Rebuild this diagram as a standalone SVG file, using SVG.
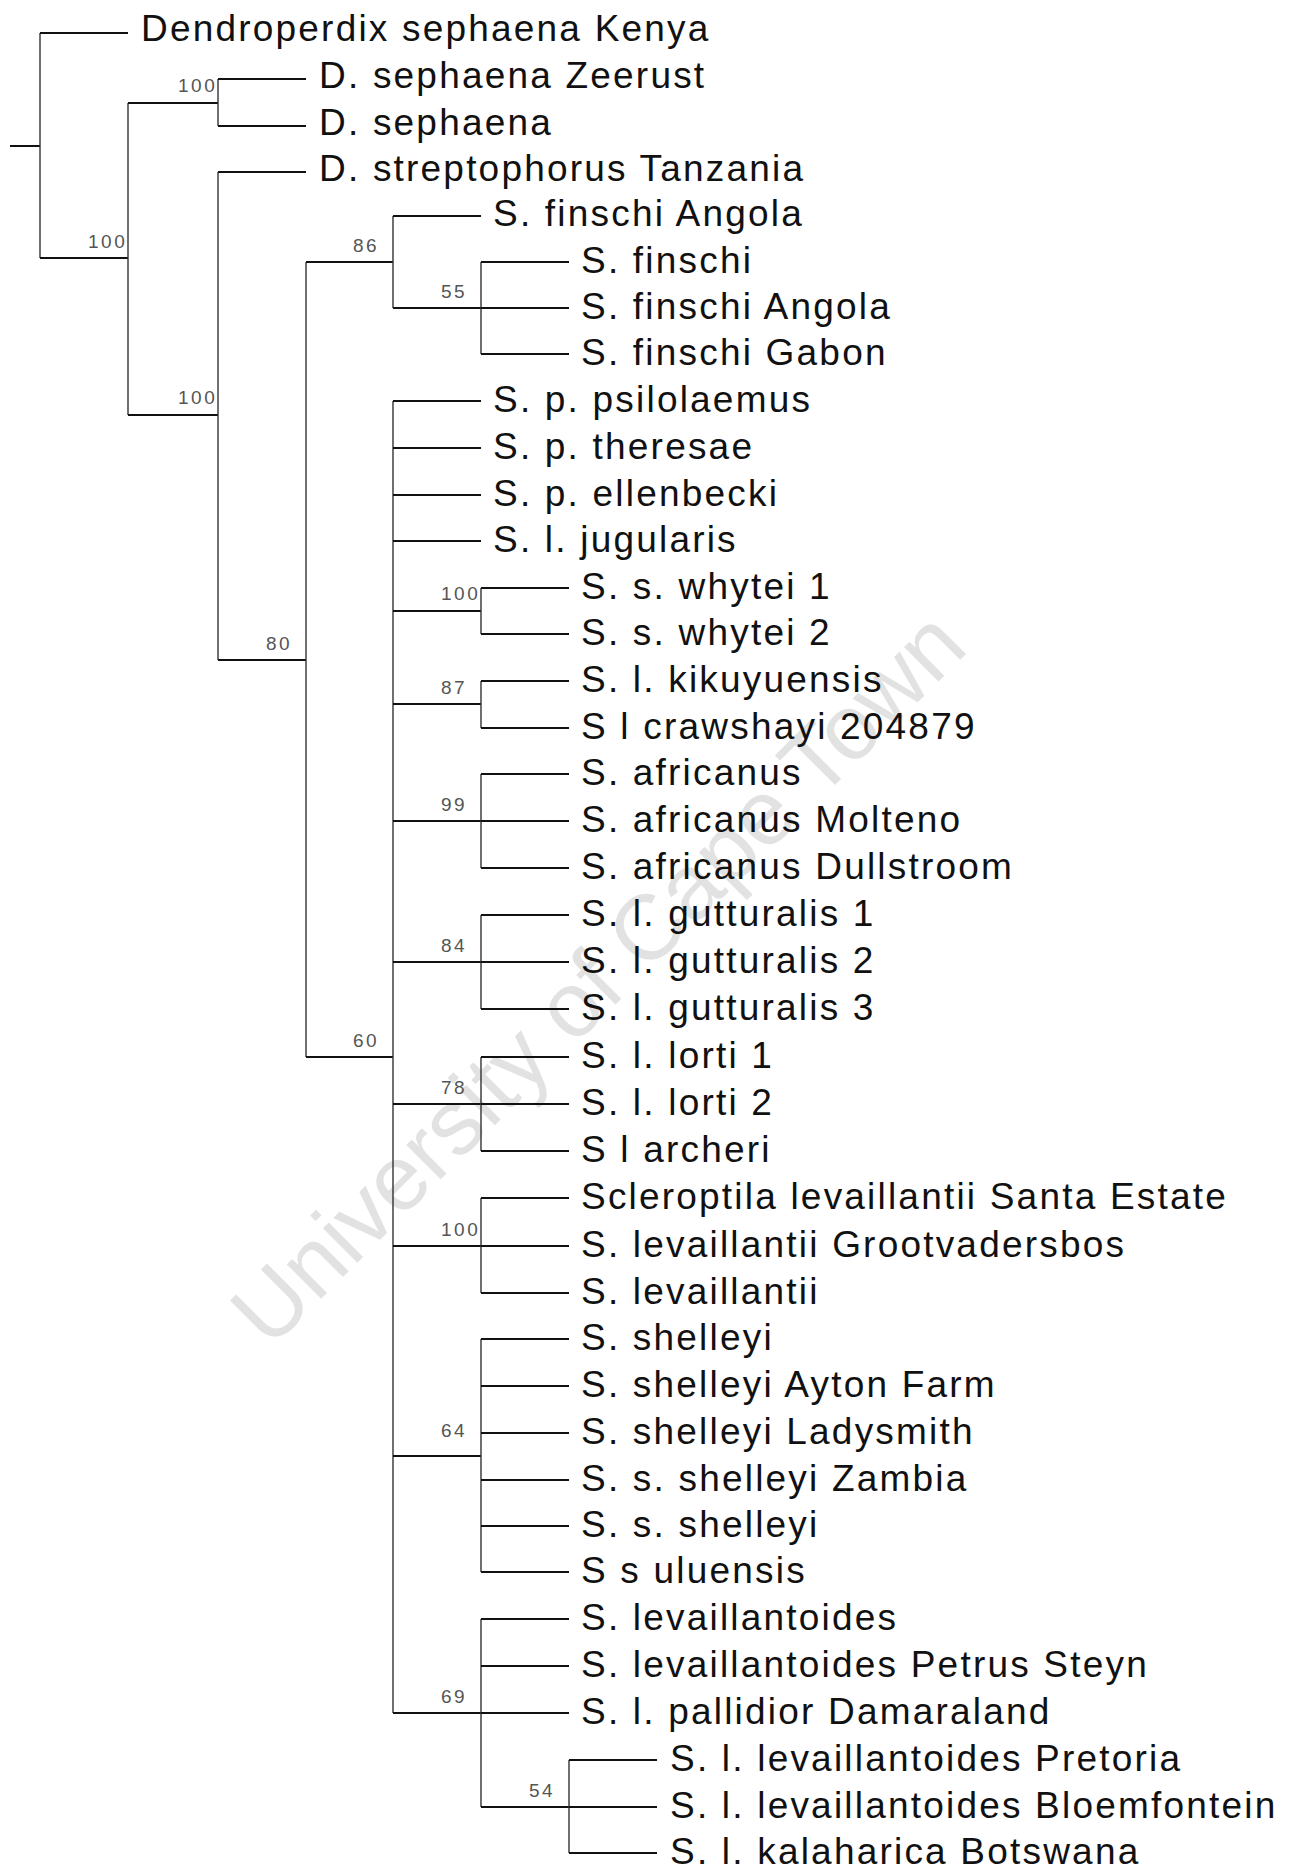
<svg xmlns="http://www.w3.org/2000/svg" width="1298" height="1870" viewBox="0 0 1298 1870">
<style>
.h{stroke:#111;stroke-width:2;fill:none}
.v{stroke:#333;stroke-width:1.4;fill:none}
.t{font-family:"Liberation Sans",Arial,Helvetica,sans-serif;font-size:37px;letter-spacing:2.2px;fill:#111}
.b{font-family:"Liberation Sans",Arial,sans-serif;font-size:19px;letter-spacing:2.5px;fill:#555}
.wm{font-family:"Liberation Sans",Arial,sans-serif;font-size:92px;fill:#e2e2e2}
</style>
<rect width="1298" height="1870" fill="#fff"/>
<text class="wm" transform="translate(620,1000) rotate(-45)" text-anchor="middle">University of Cape Town</text>

<g id="connectors">
  <line class="h" x1="10" y1="146" x2="40" y2="146"/>
  <line class="v" x1="40" y1="33" x2="40" y2="258"/>
  <line class="h" x1="40" y1="33" x2="128" y2="33"/>
  <line class="h" x1="40" y1="258" x2="128" y2="258"/>
  <line class="v" x1="128" y1="103" x2="128" y2="415"/>
  <line class="h" x1="128" y1="103" x2="218" y2="103"/>
  <line class="v" x1="218" y1="79" x2="218" y2="126"/>
  <line class="h" x1="218" y1="79" x2="306" y2="79"/>
  <line class="h" x1="218" y1="126" x2="306" y2="126"/>
  <line class="h" x1="128" y1="415" x2="218" y2="415"/>
  <line class="v" x1="218" y1="172" x2="218" y2="660"/>
  <line class="h" x1="218" y1="172" x2="306" y2="172"/>
  <line class="h" x1="218" y1="660" x2="306" y2="660"/>
  <line class="v" x1="306" y1="262" x2="306" y2="1057"/>
  <line class="h" x1="306" y1="262" x2="393" y2="262"/>
  <line class="v" x1="393" y1="216" x2="393" y2="308"/>
  <line class="h" x1="393" y1="216" x2="481" y2="216"/>
  <line class="h" x1="393" y1="308" x2="481" y2="308"/>
  <line class="v" x1="481" y1="262" x2="481" y2="354"/>
  <line class="h" x1="481" y1="262" x2="569" y2="262"/>
  <line class="h" x1="481" y1="308" x2="569" y2="308"/>
  <line class="h" x1="481" y1="354" x2="569" y2="354"/>
  <line class="h" x1="306" y1="1057" x2="393" y2="1057"/>
  <line class="v" x1="393" y1="401" x2="393" y2="1713"/>
  <line class="h" x1="393" y1="401" x2="481" y2="401"/>
  <line class="h" x1="393" y1="448" x2="481" y2="448"/>
  <line class="h" x1="393" y1="495" x2="481" y2="495"/>
  <line class="h" x1="393" y1="541" x2="481" y2="541"/>
  <line class="h" x1="393" y1="611" x2="481" y2="611"/>
  <line class="v" x1="481" y1="588" x2="481" y2="634"/>
  <line class="h" x1="481" y1="588" x2="569" y2="588"/>
  <line class="h" x1="481" y1="634" x2="569" y2="634"/>
  <line class="h" x1="393" y1="704" x2="481" y2="704"/>
  <line class="v" x1="481" y1="681" x2="481" y2="728"/>
  <line class="h" x1="481" y1="681" x2="569" y2="681"/>
  <line class="h" x1="481" y1="728" x2="569" y2="728"/>
  <line class="h" x1="393" y1="821" x2="481" y2="821"/>
  <line class="v" x1="481" y1="774" x2="481" y2="868"/>
  <line class="h" x1="481" y1="774" x2="569" y2="774"/>
  <line class="h" x1="481" y1="821" x2="569" y2="821"/>
  <line class="h" x1="481" y1="868" x2="569" y2="868"/>
  <line class="h" x1="393" y1="962" x2="481" y2="962"/>
  <line class="v" x1="481" y1="915" x2="481" y2="1009"/>
  <line class="h" x1="481" y1="915" x2="569" y2="915"/>
  <line class="h" x1="481" y1="962" x2="569" y2="962"/>
  <line class="h" x1="481" y1="1009" x2="569" y2="1009"/>
  <line class="h" x1="393" y1="1104" x2="481" y2="1104"/>
  <line class="v" x1="481" y1="1057" x2="481" y2="1151"/>
  <line class="h" x1="481" y1="1057" x2="569" y2="1057"/>
  <line class="h" x1="481" y1="1104" x2="569" y2="1104"/>
  <line class="h" x1="481" y1="1151" x2="569" y2="1151"/>
  <line class="h" x1="393" y1="1246" x2="481" y2="1246"/>
  <line class="v" x1="481" y1="1198" x2="481" y2="1293"/>
  <line class="h" x1="481" y1="1198" x2="569" y2="1198"/>
  <line class="h" x1="481" y1="1246" x2="569" y2="1246"/>
  <line class="h" x1="481" y1="1293" x2="569" y2="1293"/>
  <line class="h" x1="393" y1="1456" x2="481" y2="1456"/>
  <line class="v" x1="481" y1="1339" x2="481" y2="1572"/>
  <line class="h" x1="481" y1="1339" x2="569" y2="1339"/>
  <line class="h" x1="481" y1="1386" x2="569" y2="1386"/>
  <line class="h" x1="481" y1="1433" x2="569" y2="1433"/>
  <line class="h" x1="481" y1="1480" x2="569" y2="1480"/>
  <line class="h" x1="481" y1="1526" x2="569" y2="1526"/>
  <line class="h" x1="481" y1="1572" x2="569" y2="1572"/>
  <line class="h" x1="393" y1="1713" x2="481" y2="1713"/>
  <line class="v" x1="481" y1="1619" x2="481" y2="1807"/>
  <line class="h" x1="481" y1="1619" x2="569" y2="1619"/>
  <line class="h" x1="481" y1="1666" x2="569" y2="1666"/>
  <line class="h" x1="481" y1="1713" x2="569" y2="1713"/>
  <line class="h" x1="481" y1="1807" x2="569" y2="1807"/>
  <line class="v" x1="569" y1="1760" x2="569" y2="1853"/>
  <line class="h" x1="569" y1="1760" x2="657" y2="1760"/>
  <line class="h" x1="569" y1="1807" x2="657" y2="1807"/>
  <line class="h" x1="569" y1="1853" x2="657" y2="1853"/>
</g>

<g id="node-A"><text class="b" x="88" y="248">100</text></g>
<g id="node-B"><text class="b" x="178" y="92">100</text></g>
<g id="node-C"><text class="b" x="178" y="404">100</text></g>
<g id="node-D"><text class="b" x="266" y="650">80</text></g>
<g id="node-E"><text class="b" x="353" y="252">86</text></g>
<g id="node-F"><text class="b" x="441" y="298">55</text></g>
<g id="node-G"><text class="b" x="353" y="1047">60</text></g>
<g id="node-H"><text class="b" x="441" y="600">100</text></g>
<g id="node-I"><text class="b" x="441" y="694">87</text></g>
<g id="node-J"><text class="b" x="441" y="811">99</text></g>
<g id="node-K"><text class="b" x="441" y="952">84</text></g>
<g id="node-L"><text class="b" x="441" y="1094">78</text></g>
<g id="node-M"><text class="b" x="441" y="1236">100</text></g>
<g id="node-N"><text class="b" x="441" y="1437">64</text></g>
<g id="node-O"><text class="b" x="441" y="1703">69</text></g>
<g id="node-P"><text class="b" x="529" y="1797">54</text></g>

<g id="leaf-0"><text class="t" x="141" y="41">Dendroperdix sephaena Kenya</text></g>
<g id="leaf-1"><text class="t" x="319" y="88">D. sephaena Zeerust</text></g>
<g id="leaf-2"><text class="t" x="319" y="135">D. sephaena</text></g>
<g id="leaf-3"><text class="t" x="319" y="181">D. streptophorus Tanzania</text></g>
<g id="leaf-4"><text class="t" x="493" y="226">S. finschi Angola</text></g>
<g id="leaf-5"><text class="t" x="581" y="273">S. finschi</text></g>
<g id="leaf-6"><text class="t" x="581" y="319">S. finschi Angola</text></g>
<g id="leaf-7"><text class="t" x="581" y="365">S. finschi Gabon</text></g>
<g id="leaf-8"><text class="t" x="493" y="412">S. p. psilolaemus</text></g>
<g id="leaf-9"><text class="t" x="493" y="459">S. p. theresae</text></g>
<g id="leaf-10"><text class="t" x="493" y="506">S. p. ellenbecki</text></g>
<g id="leaf-11"><text class="t" x="493" y="552">S. l. jugularis</text></g>
<g id="leaf-12"><text class="t" x="581" y="599">S. s. whytei 1</text></g>
<g id="leaf-13"><text class="t" x="581" y="645">S. s. whytei 2</text></g>
<g id="leaf-14"><text class="t" x="581" y="692">S. l. kikuyuensis</text></g>
<g id="leaf-15"><text class="t" x="581" y="739">S l crawshayi 204879</text></g>
<g id="leaf-16"><text class="t" x="581" y="785">S. africanus</text></g>
<g id="leaf-17"><text class="t" x="581" y="832">S. africanus Molteno</text></g>
<g id="leaf-18"><text class="t" x="581" y="879">S. africanus Dullstroom</text></g>
<g id="leaf-19"><text class="t" x="581" y="926">S. l. gutturalis 1</text></g>
<g id="leaf-20"><text class="t" x="581" y="973">S. l. gutturalis 2</text></g>
<g id="leaf-21"><text class="t" x="581" y="1020">S. l. gutturalis 3</text></g>
<g id="leaf-22"><text class="t" x="581" y="1068">S. l. lorti 1</text></g>
<g id="leaf-23"><text class="t" x="581" y="1115">S. l. lorti 2</text></g>
<g id="leaf-24"><text class="t" x="581" y="1162">S l archeri</text></g>
<g id="leaf-25"><text class="t" x="581" y="1209">Scleroptila levaillantii Santa Estate</text></g>
<g id="leaf-26"><text class="t" x="581" y="1257">S. levaillantii Grootvadersbos</text></g>
<g id="leaf-27"><text class="t" x="581" y="1304">S. levaillantii</text></g>
<g id="leaf-28"><text class="t" x="581" y="1350">S. shelleyi</text></g>
<g id="leaf-29"><text class="t" x="581" y="1397">S. shelleyi Ayton Farm</text></g>
<g id="leaf-30"><text class="t" x="581" y="1444">S. shelleyi Ladysmith</text></g>
<g id="leaf-31"><text class="t" x="581" y="1491">S. s. shelleyi Zambia</text></g>
<g id="leaf-32"><text class="t" x="581" y="1537">S. s. shelleyi</text></g>
<g id="leaf-33"><text class="t" x="581" y="1583">S s uluensis</text></g>
<g id="leaf-34"><text class="t" x="581" y="1630">S. levaillantoides</text></g>
<g id="leaf-35"><text class="t" x="581" y="1677">S. levaillantoides Petrus Steyn</text></g>
<g id="leaf-36"><text class="t" x="581" y="1724">S. l. pallidior Damaraland</text></g>
<g id="leaf-37"><text class="t" x="670" y="1771">S. l. levaillantoides Pretoria</text></g>
<g id="leaf-38"><text class="t" x="670" y="1818">S. l. levaillantoides Bloemfontein</text></g>
<g id="leaf-39"><text class="t" x="670" y="1864">S. l. kalaharica Botswana</text></g>
</svg>
